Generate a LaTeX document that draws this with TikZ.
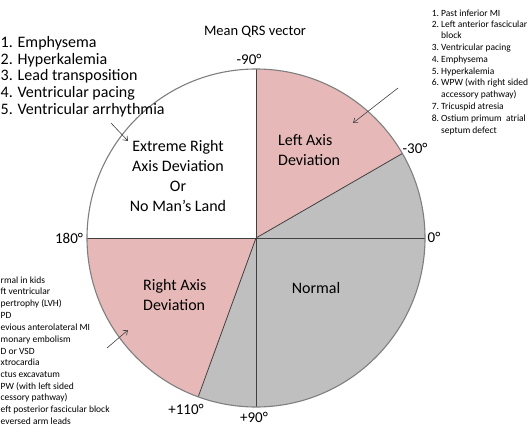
\documentclass[tikz,border=0pt]{standalone}
\usepackage{fontspec}
\setmainfont{Carlito}
\usetikzlibrary{arrows.meta}
\definecolor{pinkc}{HTML}{E6B9B8}
\definecolor{grayc}{HTML}{BFBFBF}
\definecolor{rimc}{HTML}{7F7F7F}
\definecolor{linec}{HTML}{404040}
\begin{document}
\begin{tikzpicture}[x=1pt,y=-1pt,
  deg/.style={inner sep=0pt, font=\fontsize{15}{18}\selectfont},
  region/.style={inner sep=0pt, font=\fontsize{16}{20}\selectfont},
  biglist/.style={inner sep=0pt, anchor=mid west, font=\fontsize{16}{16}\selectfont},
  smalllist/.style={inner sep=0pt, anchor=mid west, font=\fontsize{9.5}{11}\selectfont},
  pointer/.style={draw=linec, line width=0.6pt, -{Straight Barb[length=4pt,width=6pt]}},
  divider/.style={draw=linec, line width=0.8pt},
  rim/.style={draw=rimc, line width=1.1pt},
]
\useasboundingbox (0,0) rectangle (530,442);
\fill[white] (0,0) rectangle (530,442);
\def\R{169}
\coordinate (O) at (256,238);
\path (O) ++(-90:\R) coordinate (top);
\path (O) ++(90:\R) coordinate (bottom);
\path (O) ++(180:\R) coordinate (west);
\path (O) ++(0:\R) coordinate (east);
\path (O) ++(-30:\R) coordinate (m30);
\path (O) ++(110:\R) coordinate (p110);
% sectors
\fill[pinkc] (O) -- (top) arc[start angle=-90, end angle=-30, radius=\R] -- cycle;
\fill[grayc] (O) -- (m30) arc[start angle=-30, end angle=110, radius=\R] -- cycle;
\fill[pinkc] (O) -- (p110) arc[start angle=110, end angle=180, radius=\R] -- cycle;
% dividers
\draw[divider] (west) -- (east);
\draw[divider] (top) -- (bottom);
\draw[divider] (O) -- (m30);
\draw[divider] (O) -- (p110);
\draw[rim] (O) circle[radius=\R];
% title and degrees
\node[inner sep=0pt, font=\fontsize{14.5}{17}\selectfont] (title) at (255,32) {Mean QRS vector};
\node[deg] (dm90) at (249,59) {-90°};
\node[deg] (dm30) at (415,148) {-30°};
\node[deg] (d0) at (434,237) {0°};
\node[deg] (d180) at (69,238) {180°};
\node[deg] (dp110) at (186,409) {+110°};
\node[deg] (dp90) at (254,417) {+90°};
% regions
\node[region, align=center] (ext) at (178,176) {Extreme Right\\Axis Deviation\\Or\\No Man’s Land};
\node[region, align=left, anchor=west] (lad) at (278,150.5) {Left Axis\\Deviation};
\node[region, align=left, anchor=west] (rad) at (143,295) {Right Axis\\Deviation};
\node[region] (norm) at (316,288) {Normal};
% top-left list
\node[biglist] (tl1) at (0.5,45) {1. Emphysema};
\node[biglist] (tl2) at (0.5,61.7) {2. Hyperkalemia};
\node[biglist] (tl3) at (0.5,78.3) {3. Lead transposition};
\node[biglist] (tl4) at (0.5,95) {4. Ventricular pacing};
\node[biglist] (tl5) at (0.5,111.7) {5. Ventricular arrhythmia};
% top-right list
\node[smalllist] (tr1) at (441,14) {\llap{1.\ }Past inferior MI};
\node[smalllist] (tr2) at (441,25) {\llap{2.\ }Left anterior fascicular};
\node[smalllist] (tr2b) at (441,36) {block};
\node[smalllist] (tr3) at (441,48) {\llap{3.\ }Ventricular pacing};
\node[smalllist] (tr4) at (441,60) {\llap{4.\ }Emphysema};
\node[smalllist] (tr5) at (441,72) {\llap{5.\ }Hyperkalemia};
\node[smalllist] (tr6) at (441,83) {\llap{6.\ }WPW (with right sided};
\node[smalllist] (tr6b) at (441,95) {accessory pathway)};
\node[smalllist] (tr7) at (441,107) {\llap{7.\ }Tricuspid atresia};
\node[smalllist] (tr8) at (441,119) {\llap{8.\ }Ostium primum\ \ atrial};
\node[smalllist] (tr8b) at (441,131) {septum defect};
% bottom-left list (as printed, cut at the left edge)
\node[smalllist] (bl1) at (0.5,281) {rmal in kids};
\node[smalllist] (bl2) at (0.5,292) {ft ventricular};
\node[smalllist] (bl2b) at (0.5,304) {pertrophy (LVH)};
\node[smalllist] (bl3) at (0.5,316) {PD};
\node[smalllist] (bl4) at (0.5,328) {evious anterolateral MI};
\node[smalllist] (bl5) at (0.5,340) {monary embolism};
\node[smalllist] (bl6) at (0.5,352) {D or VSD};
\node[smalllist] (bl7) at (0.5,363) {xtrocardia};
\node[smalllist] (bl8) at (0.5,375) {ctus excavatum};
\node[smalllist] (bl9) at (0.5,387) {PW (with left sided};
\node[smalllist] (bl9b) at (0.5,398) {cessory pathway)};
\node[smalllist] (bl10) at (0.5,410) {eft posterior fascicular block};
\node[smalllist] (bl11) at (0.5,422) {eversed arm leads};
% pointers
\coordinate (a1s) at (111,123); \coordinate (a1e) at (128,141);
\coordinate (a2s) at (398,88);  \coordinate (a2e) at (353,123);
\coordinate (a3s) at (107,348); \coordinate (a3e) at (128,330);
\draw[pointer] (a1s) -- (a1e);
\draw[pointer] (a2s) -- (a2e);
\draw[pointer] (a3s) -- (a3e);
\end{tikzpicture}
\end{document}
